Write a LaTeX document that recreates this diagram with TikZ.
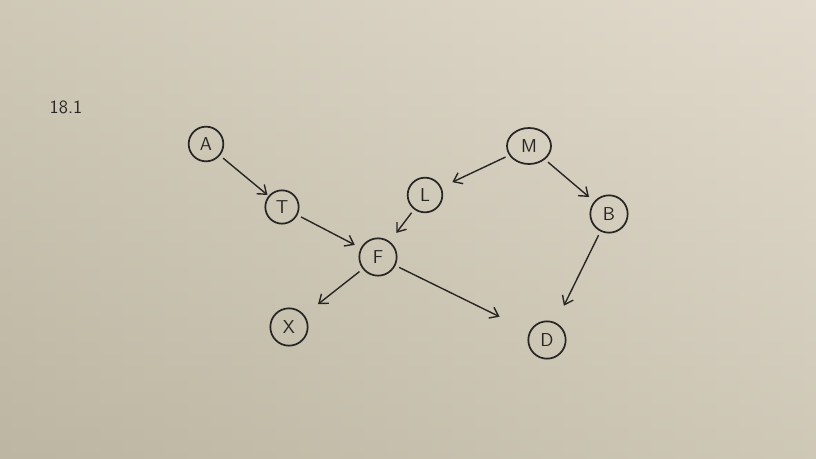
\documentclass[tikz,border=0pt]{standalone}
\usetikzlibrary{arrows.meta,shapes.geometric}
\begin{document}
\definecolor{paperdark}{RGB}{188,182,162}
\definecolor{paperlight}{RGB}{226,219,205}
\definecolor{ink}{RGB}{40,38,36}
\begin{tikzpicture}[x=0.75pt,y=-0.75pt,
  var/.style={draw=ink,line width=1.3pt,circle,minimum size=26pt,inner sep=0pt,
    text=ink,font=\sffamily\fontsize{14}{14}\selectfont},
  link/.style={draw=ink,line width=1.05pt,-{Straight Barb[length=6pt,width=9pt]},
    shorten <=3pt}]
  % paper
  \shade[left color=paperdark,right color=paperlight] (0,0) rectangle (816,459);
  \shade[top color=paperlight,bottom color=paperdark,opacity=0.5] (0,0) rectangle (816,459);
  \useasboundingbox (0,0) rectangle (816,459);
  % heading
  \node[text=ink,font=\sffamily\fontsize{14}{14}\selectfont] (title) at (66,107) {18.1};
  % variables
  \node[var] (A) at (206,144) {A};
  \node[var,minimum size=25pt] (T) at (282,207) {T};
  \node[var,minimum size=28pt] (F) at (378,257) {F};
  \node[var] (L) at (425,195) {L};
  \node[var,ellipse,minimum width=33pt,minimum height=27pt] (M) at (529,146) {M};
  \node[var,minimum size=28pt] (B) at (609,214) {B};
  \node[var,minimum size=28pt] (X) at (289,327) {X};
  \node[var,minimum size=28pt] (D) at (547,340) {D};
  % dependencies
  \draw[link,shorten >=1pt] (A) -- (T);
  \draw[link,shorten >=5pt] (T) -- (F);
  \draw[link,shorten >=9pt] (M) -- (L);
  \draw[link,shorten >=5pt] (M) -- (B);
  \draw[link,shorten >=8pt] (L) -- (F);
  \draw[link,shorten >=13pt] (F) -- (X);
  \draw[link,shorten >=25pt] (F) -- (D);
  \draw[link,shorten >=14pt] (B) -- (D);
\end{tikzpicture}
\end{document}
